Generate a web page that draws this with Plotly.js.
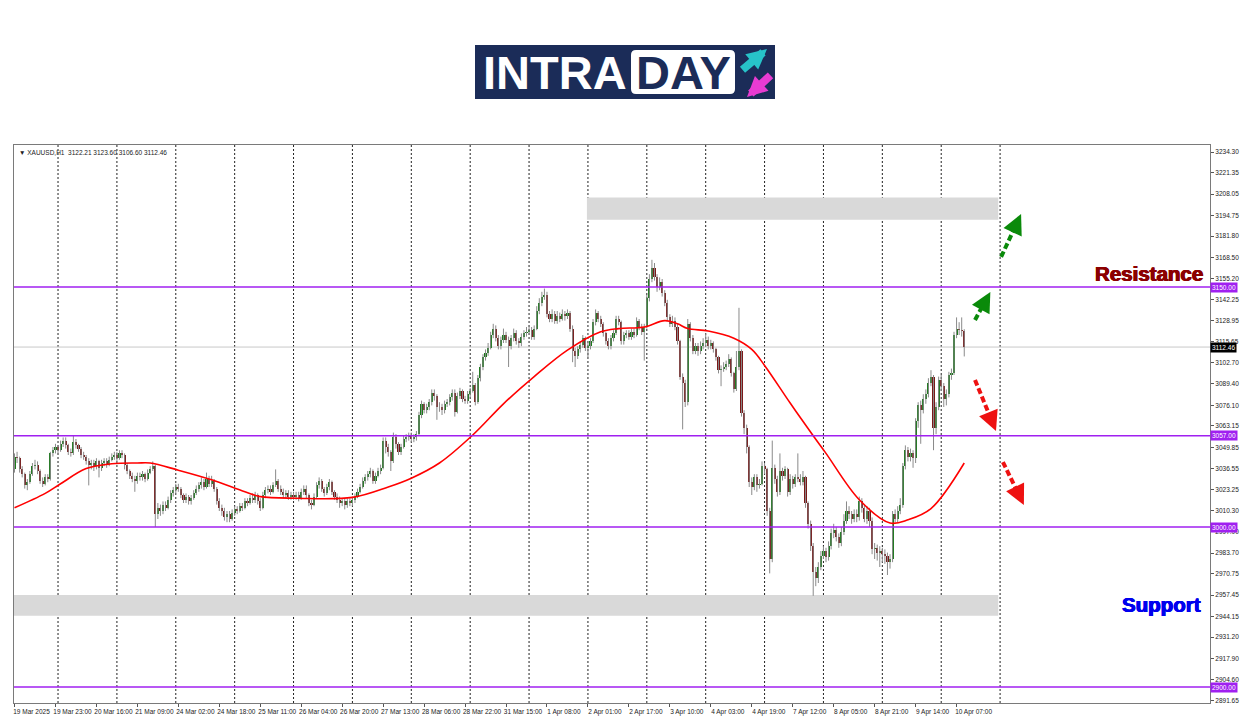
<!DOCTYPE html>
<html><head><meta charset="utf-8">
<script src="https://cdn.plot.ly/plotly-3.0.1.min.js"></script>
<style>html,body{margin:0;padding:0;background:#fff}#chart{width:1250px;height:716px}</style>
</head><body><div id="chart"></div>
<script>
const symbol = 'XAUUSD,H1';
const lastOHLC = [3122.21, 3123.60, 3106.60, 3112.46];
const tickBars = [0,16,32,48,64,80,96,112,128,144,160,176,192,208,224,240,256,272,288,304,320,336,352,368];
const tickLabels = ['19 Mar 2025','19 Mar 23:00','20 Mar 16:00','21 Mar 09:00','24 Mar 02:00','24 Mar 18:00','25 Mar 11:00','26 Mar 04:00','26 Mar 20:00','27 Mar 13:00','28 Mar 06:00','28 Mar 22:00','31 Mar 15:00','1 Apr 08:00','2 Apr 01:00','2 Apr 17:00','3 Apr 10:00','4 Apr 03:00','4 Apr 19:00','7 Apr 12:00','8 Apr 05:00','8 Apr 21:00','9 Apr 14:00','10 Apr 07:00'];
const priceTicks = [3234.30,3221.35,3208.05,3194.75,3181.80,3168.50,3155.20,3142.25,3128.95,3115.65,3102.70,3089.40,3076.10,3063.15,3049.85,3036.55,3023.25,3010.30,2997.00,2983.70,2970.75,2957.45,2944.15,2931.20,2917.90,2904.60,2891.65];
const daySeparators = [17,40,63,86,109,132,155,178,201,224,247,270,293,316,339,362,385];

const openP = [
3036,3044,3043,3036,3033,3026,3028,3033,3038,3039,
3035,3029,3027,3031,3030,3046,3048,3050,3048,3052,
3054,3051,3047,3046,3053,3051,3049,3045,3044,3041,
3039,3040,3038,3041,3037,3040,3041,3039,3042,3044,
3045,3043,3046,3045,3039,3035,3032,3030,3029,3032,
3031,3033,3030,3034,3036,3038,3008,3012,3010,3014,
3012,3017,3021,3023,3025,3024,3020,3017,3019,3016,
3018,3021,3024,3026,3028,3025,3030,3027,3029,3024,
3016,3012,3010,3006,3008,3005,3009,3011,3010,3013,
3012,3016,3015,3018,3017,3020,3016,3012,3020,3023,
3024,3022,3026,3029,3024,3022,3020,3021,3019,3020,
3019,3020,3018,3022,3024,3020,3015,3014,3019,3026,
3029,3024,3021,3025,3028,3022,3019,3017,3015,3016,
3014,3016,3015,3017,3019,3022,3025,3029,3031,3033,
3035,3029,3032,3035,3037,3054,3050,3047,3041,3056,
3052,3047,3050,3055,3056,3057,3055,3056,3058,3070,
3077,3073,3075,3078,3084,3082,3075,3075,3073,3077,
3078,3081,3084,3072,3082,3085,3080,3079,3083,3085,
3089,3078,3093,3100,3106,3109,3112,3120,3124,3118,
3113,3117,3120,3117,3113,3118,3121,3116,3115,3119,
3121,3122,3123,3119,3124,3135,3140,3144,3145,3133,
3130,3133,3129,3132,3130,3133,3132,3134,3124,3110,
3107,3111,3114,3118,3112,3113,3116,3128,3134,3130,
3127,3121,3116,3113,3118,3121,3130,3128,3116,3120,
3121,3119,3122,3120,3129,3125,3122,3125,3143,3155,
3162,3156,3150,3153,3146,3140,3131,3127,3129,3125,
3116,3094,3090,3078,3127,3118,3110,3113,3110,3113,
3115,3117,3113,3115,3111,3106,3098,3099,3100,3102,
3105,3096,3086,3100,3110,3071,3062,3050,3028,3025,
3031,3026,3027,3038,3036,3010,2980,3037,3030,3022,
3035,3032,3036,3022,3030,3027,3031,3030,3028,3031,
3015,3002,2988,2972,2968,2975,2982,2985,2981,2988,
2996,2998,2994,2990,2997,3004,3010,3008,3005,3008,
3006,3016,3012,3005,3010,3004,2986,2987,2984,2985,
2983,2982,2978,2980,3008,3005,3010,3014,3038,3048,
3044,3046,3043,3066,3076,3073,3080,3083,3090,3094,
3062,3075,3092,3088,3080,3083,3095,3096,3120,3124,
3123,3122.21];
const highP = [
3046,3047,3044,3038,3034,3030,3035,3040,3042,3041,
3036,3031,3033,3033,3047,3050,3052,3051,3054,3056,
3056,3052,3049,3057,3055,3052,3050,3047,3045,3043,
3042,3042,3043,3042,3042,3043,3043,3044,3046,3047,
3047,3048,3048,3046,3040,3036,3034,3032,3034,3034,
3035,3034,3036,3038,3041,3039,3015,3014,3016,3016,
3019,3023,3025,3027,3027,3025,3021,3021,3020,3020,
3023,3026,3028,3031,3030,3034,3032,3032,3030,3025,
3018,3014,3012,3010,3010,3011,3013,3013,3015,3015,
3018,3018,3020,3021,3022,3021,3018,3022,3025,3026,
3026,3028,3036,3030,3026,3024,3023,3023,3022,3022,
3022,3022,3024,3026,3026,3021,3017,3021,3028,3031,
3030,3025,3027,3030,3029,3023,3021,3019,3018,3018,
3018,3018,3019,3021,3024,3027,3031,3033,3035,3037,
3036,3034,3037,3039,3056,3056,3052,3048,3059,3058,
3053,3052,3057,3058,3059,3059,3058,3060,3072,3079,
3078,3077,3080,3086,3086,3083,3078,3077,3079,3080,
3083,3086,3086,3084,3087,3086,3082,3085,3087,3097,
3090,3095,3102,3108,3111,3115,3122,3127,3126,3120,
3119,3124,3122,3119,3120,3124,3123,3118,3121,3123,
3125,3126,3125,3126,3138,3143,3147,3149,3147,3135,
3136,3135,3135,3134,3136,3135,3136,3135,3126,3112,
3113,3116,3120,3119,3115,3118,3130,3136,3135,3132,
3128,3122,3118,3120,3123,3132,3132,3129,3122,3123,
3123,3124,3124,3131,3130,3127,3127,3145,3158,3167,
3165,3158,3156,3155,3148,3142,3133,3132,3131,3127,
3117,3096,3092,3130,3128,3120,3115,3115,3116,3118,
3121,3119,3117,3116,3112,3107,3101,3103,3104,3108,
3106,3097,3110,3137,3111,3073,3064,3051,3031,3033,
3033,3030,3041,3040,3037,3012,3054,3039,3032,3046,
3037,3038,3037,3033,3032,3033,3046,3033,3035,3032,
3016,3004,2990,2975,2978,2985,2988,2987,2991,2999,
3002,3000,2996,3000,3008,3016,3013,3010,3011,3011,
3019,3018,3014,3013,3012,3006,2990,2989,2988,2987,
2986,2984,2983,3010,3011,3013,3018,3040,3051,3050,
3049,3048,3068,3078,3079,3083,3086,3093,3098,3095,
3078,3094,3095,3090,3086,3097,3099,3122,3131,3128,
3131,3123.60];
const lowP = [
3034,3040,3034,3031,3024,3023,3027,3032,3036,3033,
3027,3025,3026,3028,3029,3044,3046,3045,3047,3050,
3049,3045,3044,3045,3049,3047,3043,3042,3039,3026,
3036,3035,3036,3031,3035,3038,3037,3038,3041,3042,
3041,3042,3043,3036,3033,3030,3028,3022,3027,3029,
3029,3028,3029,3033,3035,3000,3005,3007,3008,3010,
3011,3015,3019,3021,3022,3018,3015,3015,3014,3014,
3017,3020,3022,3024,3023,3024,3025,3025,3022,3014,
3010,3007,3004,3003,3003,3004,3007,3008,3009,3010,
3011,3013,3014,3015,3015,3014,3010,3011,3018,3021,
3020,3021,3025,3022,3020,3018,3018,3017,3017,3017,
3017,3016,3017,3020,3018,3013,3011,3013,3018,3024,
3022,3019,3020,3023,3020,3017,3015,3012,3013,3011,
3012,3013,3013,3015,3018,3021,3024,3027,3029,3031,
3027,3027,3031,3033,3036,3046,3044,3035,3040,3049,
3045,3045,3049,3053,3054,3053,3053,3054,3057,3068,
3071,3071,3073,3076,3079,3067,3072,3070,3071,3075,
3076,3079,3069,3071,3080,3078,3077,3077,3081,3084,
3076,3077,3091,3098,3104,3107,3111,3118,3116,3111,
3111,3115,3115,3100,3111,3116,3114,3112,3113,3117,
3119,3120,3117,3117,3123,3133,3138,3142,3131,3128,
3128,3127,3127,3128,3129,3129,3130,3122,3103,3100,
3105,3109,3112,3110,3106,3111,3115,3126,3128,3125,
3119,3114,3111,3111,3116,3120,3126,3114,3114,3118,
3117,3117,3118,3119,3123,3120,3104,3124,3141,3153,
3154,3147,3148,3144,3138,3129,3125,3125,3123,3114,
3092,3061,3075,3076,3116,3108,3108,3107,3108,3111,
3113,3111,3111,3109,3104,3096,3088,3097,3098,3100,
3094,3084,3085,3098,3069,3058,3046,3025,3020,3023,
3022,3024,3026,3033,3007,2971,2978,3027,3019,3020,
3029,3030,3019,3020,3024,3025,3028,3026,3026,3012,
2999,2985,2957,2963,2965,2973,2980,2978,2979,2986,
2993,2991,2987,2988,2995,3002,3005,3002,3003,3003,
3004,3009,3003,3002,3000,2983,2980,2979,2975,2978,
2977,2970,2974,2978,3003,3003,3008,3012,3036,3041,
3041,3037,3040,3062,3052,3071,3077,3081,3088,3048,
3058,3073,3085,3075,3076,3081,3092,3095,3118,3120,
3119,3106.60];
const closeP = [
3044,3043,3036,3033,3026,3028,3033,3038,3039,3035,
3029,3027,3031,3030,3046,3048,3050,3048,3052,3054,
3051,3047,3046,3053,3051,3049,3045,3044,3041,3039,
3040,3038,3041,3037,3040,3041,3039,3042,3044,3045,
3043,3046,3045,3039,3035,3032,3030,3029,3032,3031,
3033,3030,3034,3036,3038,3008,3012,3010,3014,3012,
3017,3021,3023,3025,3024,3020,3017,3019,3016,3018,
3021,3024,3026,3028,3025,3030,3027,3029,3024,3016,
3012,3010,3006,3008,3005,3009,3011,3010,3013,3012,
3016,3015,3018,3017,3020,3016,3012,3020,3023,3024,
3022,3026,3029,3024,3022,3020,3021,3019,3020,3019,
3020,3018,3022,3024,3020,3015,3014,3019,3026,3029,
3024,3021,3025,3028,3022,3019,3017,3015,3016,3014,
3016,3015,3017,3019,3022,3025,3029,3031,3033,3035,
3029,3032,3035,3037,3054,3050,3047,3041,3056,3052,
3047,3050,3055,3056,3057,3055,3056,3058,3070,3077,
3073,3075,3078,3084,3082,3075,3075,3073,3077,3078,
3081,3084,3072,3082,3085,3080,3079,3083,3085,3089,
3078,3093,3100,3106,3109,3112,3120,3124,3118,3113,
3117,3120,3117,3113,3118,3121,3116,3115,3119,3121,
3122,3123,3119,3124,3135,3140,3144,3145,3133,3130,
3133,3129,3132,3130,3133,3132,3134,3124,3110,3107,
3111,3114,3118,3112,3113,3116,3128,3134,3130,3127,
3121,3116,3113,3118,3121,3130,3128,3116,3120,3121,
3119,3122,3120,3129,3125,3122,3125,3143,3155,3162,
3156,3150,3153,3146,3140,3131,3127,3129,3125,3116,
3094,3090,3078,3127,3118,3110,3113,3110,3113,3115,
3117,3113,3115,3111,3106,3098,3099,3100,3102,3105,
3096,3086,3100,3110,3071,3062,3050,3028,3025,3031,
3026,3027,3038,3036,3010,2980,3037,3030,3022,3035,
3032,3036,3022,3030,3027,3031,3030,3028,3031,3015,
3002,2988,2972,2968,2975,2982,2985,2981,2988,2996,
2998,2994,2990,2997,3004,3010,3008,3005,3008,3006,
3016,3012,3005,3010,3004,2986,2987,2984,2985,2983,
2982,2978,2980,3008,3005,3010,3014,3038,3048,3044,
3046,3043,3066,3076,3073,3080,3083,3090,3094,3062,
3075,3092,3088,3080,3083,3095,3096,3120,3124,3123,
3122.21,3112.46];

const maBars   = [0,12,18,28,38,48,53,64,77,90,96,110,132,146,155,166,179,191,203,216,229,236,246,254,259,263,271,281,288,293,303,312,317,330,342,349,358,371];
const maValues = [3012,3021,3027,3036.5,3039.5,3040,3040,3035.5,3029.5,3022,3019,3018,3018.5,3025,3030.5,3040,3057.5,3077,3094,3110.5,3122,3124,3125,3129,3127,3124,3122.5,3118,3111,3101,3077.5,3057,3046,3017,3002.5,3004.5,3011.5,3040];

const levels = [3150.00, 3057.00, 3000.00, 2900.00];
const currentPrice = 3112.46;
const resistanceZone = {from: 223.6, to: 384.3, low: 3192, high: 3206};
const supportZone = {from: -0.2, to: 384.3, low: 2944.5, high: 2957.5};
// arrows: [tailBar, tailPrice, tipBar, tipPrice]
const upArrows = [[375.2,3129.4,381.2,3146.9],[385.4,3168.8,393.2,3195.6]];
const downArrows = [[375.2,3091.9,383.4,3060.0],[386.1,3040.6,394.3,3013.8]];

const bars = closeP.map((_, i) => i);
const bullColor = '#1a7a1a', bearColor = '#7a1818', wickColor = '#8a8a8a';
const levelColor = '#a020f0';
const navy = '#1b2c58';

const traces = [
  {type:'ohlc', x:bars, open:openP, high:highP, low:lowP, close:closeP, tickwidth:0,
   increasing:{line:{color:wickColor,width:1}}, decreasing:{line:{color:wickColor,width:1}},
   hoverinfo:'skip', showlegend:false},
  {type:'bar', x:bars, base:openP, y:closeP.map((c,i)=>c-openP[i]), width:0.82,
   marker:{color:closeP.map((c,i)=> c>=openP[i]?bullColor:bearColor), line:{width:0}},
   hoverinfo:'skip', showlegend:false},
  {type:'scatter', mode:'lines', x:maBars, y:maValues, line:{color:'#ff0000', width:1.6, shape:'spline', smoothing:1},
   hoverinfo:'skip', showlegend:false}
];

const shapes = [];
[resistanceZone, supportZone].forEach(z => shapes.push({type:'rect', xref:'x', yref:'y', x0:z.from, x1:z.to, y0:z.low, y1:z.high,
  fillcolor:'#d9d9d9', line:{width:0}, layer:'below'}));
daySeparators.forEach(b => shapes.push({type:'line', xref:'x', yref:'paper', x0:b, x1:b, y0:0, y1:1,
  line:{color:'#222', width:1, dash:'2px,2px'}, layer:'below'}));
shapes.push({type:'line', xref:'paper', yref:'y', x0:0, x1:1, y0:currentPrice, y1:currentPrice, line:{color:'#c8c8c8', width:1}, layer:'below'});
levels.forEach(l => shapes.push({type:'line', xref:'paper', yref:'y', x0:0, x1:1, y0:l, y1:l, line:{color:levelColor, width:1.6}}));
upArrows.forEach(a => shapes.push({type:'line', xref:'x', yref:'y', x0:a[0], y0:a[1], x1:a[0]+(a[2]-a[0])*0.7, y1:a[1]+(a[3]-a[1])*0.7,
  line:{color:'#0a8a0a', width:4, dash:'6px,3px'}}));
downArrows.forEach(a => shapes.push({type:'line', xref:'x', yref:'y', x0:a[0], y0:a[1], x1:a[0]+(a[2]-a[0])*0.7, y1:a[1]+(a[3]-a[1])*0.7,
  line:{color:'#ee1111', width:4, dash:'6px,3px'}}));

// logo (paper coords: px -> (px-14)/1196, py -> (703-py)/558)
const px = v => (v-14)/1196, py = v => (703-v)/558;
function roundRect(x0, y0, x1, y1, r) {
  const rx = r/1196, ry = r/558;
  const a = px(x0), b = px(x1), t = py(y0), u = py(y1);
  return `M${a+rx},${t} L${b-rx},${t} Q${b},${t} ${b},${t-ry} L${b},${u+ry} Q${b},${u} ${b-rx},${u} L${a+rx},${u} Q${a},${u} ${a},${u+ry} L${a},${t-ry} Q${a},${t} ${a+rx},${t} Z`;
}
shapes.push({type:'rect', xref:'paper', yref:'paper', x0:px(475), x1:px(775), y0:py(99), y1:py(45), fillcolor:navy, line:{width:0}});
shapes.push({type:'path', xref:'paper', yref:'paper', path:roundRect(631, 50, 735, 94, 5), fillcolor:'#ffffff', line:{width:0}});

const annotations = [];
annotations.push({xref:'paper', yref:'paper', x:px(17), y:py(147), xanchor:'left', yanchor:'top', showarrow:false,
  text:'\u25BC ' + symbol + '  ' + lastOHLC.map(v=>v.toFixed(2)).join(' '), font:{family:'Liberation Sans', size:6.5, color:'#222'}});
levels.forEach(l => annotations.push({xref:'paper', yref:'y', x:1, y:l, xanchor:'left', yanchor:'middle', showarrow:false,
  text:l.toFixed(2), bgcolor:levelColor, font:{family:'Liberation Sans', size:6.5, color:'#fff'}, borderpad:1}));
annotations.push({xref:'paper', yref:'y', x:1, y:currentPrice, xanchor:'left', yanchor:'middle', showarrow:false,
  text:currentPrice.toFixed(2), bgcolor:'#000', font:{family:'Liberation Sans', size:6.5, color:'#fff'}, borderpad:1});
annotations.push({xref:'paper', yref:'paper', x:px(1205), y:py(273), xanchor:'right', yanchor:'middle', showarrow:false,
  text:'<b>Resistance</b>', font:{family:'Liberation Sans', size:20.5, color:'#8b0000', shadow:'0.6px 0 0 #8b0000, -0.6px 0 0 #8b0000, 0 0.4px 0 #8b0000'}});
annotations.push({xref:'paper', yref:'paper', x:px(1203), y:py(604), xanchor:'right', yanchor:'middle', showarrow:false,
  text:'<b>Support</b>', font:{family:'Liberation Sans', size:20.5, color:'#0000ee', shadow:'0.6px 0 0 #0000ee, -0.6px 0 0 #0000ee, 0 0.4px 0 #0000ee'}});
upArrows.forEach(a => annotations.push({xref:'x', yref:'y', x:a[2], y:a[3], axref:'x', ayref:'y', ax:a[0]+(a[2]-a[0])*0.62, ay:a[1]+(a[3]-a[1])*0.62,
  showarrow:true, arrowhead:2, arrowsize:1, arrowwidth:4, arrowcolor:'#0a8a0a', text:''}));
downArrows.forEach(a => annotations.push({xref:'x', yref:'y', x:a[2], y:a[3], axref:'x', ayref:'y', ax:a[0]+(a[2]-a[0])*0.62, ay:a[1]+(a[3]-a[1])*0.62,
  showarrow:true, arrowhead:2, arrowsize:1, arrowwidth:4, arrowcolor:'#ee1111', text:''}));
// logo text
annotations.push({xref:'paper', yref:'paper', x:px(481), y:py(72), xanchor:'left', yanchor:'middle', showarrow:false,
  text:'<b>INTRA</b>', font:{family:'Liberation Sans', size:47, color:'#ffffff'}});
annotations.push({xref:'paper', yref:'paper', x:px(683), y:py(72), xanchor:'center', yanchor:'middle', showarrow:false,
  text:'<b>DAY</b>', font:{family:'Liberation Sans', size:47, color:navy}});
// logo arrows: cyan up-right (upper-left band), magenta down-left (lower-right band)
annotations.push({xref:'paper', yref:'paper', x:px(767), y:py(49), showarrow:true, ax:-26, ay:22, arrowhead:2, arrowsize:0.5, arrowwidth:8, arrowcolor:'#27c3c9', text:''});
annotations.push({xref:'paper', yref:'paper', x:px(747), y:py(97), showarrow:true, ax:25, ay:-23, arrowhead:2, arrowsize:0.5, arrowwidth:8, arrowcolor:'#e83bd2', text:''});

const layout = {
  width:1250, height:716, margin:{l:14, r:40, t:145, b:13},
  paper_bgcolor:'#ffffff', plot_bgcolor:'#ffffff', showlegend:false, barmode:'overlay', bargap:0,
  font:{family:'Liberation Sans', color:'#222'},
  xaxis:{range:[-0.2, 467], tickmode:'array', tickvals:tickBars, ticktext:tickLabels, ticks:'outside', ticklen:3, tickcolor:'#555',
    showline:true, mirror:true, linecolor:'#7a7a7a', linewidth:1, showgrid:false, zeroline:false,
    tickfont:{family:'Liberation Sans', size:6.5, color:'#222'}, ticklabelshift:17, ticklabelstandoff:-1, rangeslider:{visible:false}, fixedrange:true},
  yaxis:{side:'right', range:[2890, 3238.75], tickmode:'array', tickvals:priceTicks, ticktext:priceTicks.map(v=>v.toFixed(2)),
    ticks:'outside', ticklen:3, tickcolor:'#555', showline:true, mirror:true, linecolor:'#7a7a7a', linewidth:1, showgrid:false, zeroline:false,
    tickfont:{family:'Liberation Sans', size:6.5, color:'#222'}, fixedrange:true},
  shapes:shapes, annotations:annotations
};
Plotly.newPlot('chart', traces, layout, {displayModeBar:false, staticPlot:true});
</script>
</body></html>
